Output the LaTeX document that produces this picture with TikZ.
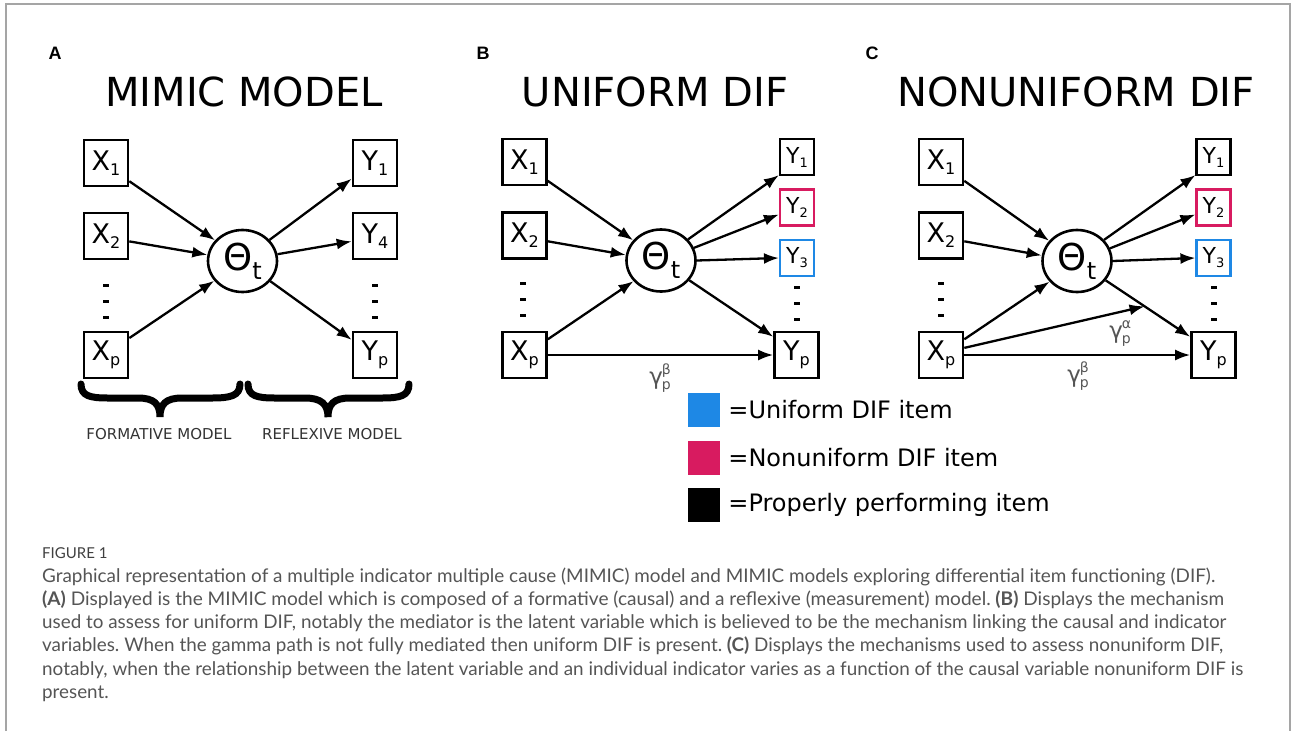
\documentclass[tikz,border=0pt]{standalone}
\usepackage{fontspec}
\setmainfont{DejaVu Sans}
\newfontfamily\capfont{Lato}
\newfontfamily\panfont{Liberation Sans}
\usetikzlibrary{arrows.meta,shapes.geometric,calc}
\definecolor{difblue}{RGB}{30,136,229}
\definecolor{difred}{RGB}{216,27,96}
\definecolor{capgray}{RGB}{85,85,85}
\definecolor{framegray}{RGB}{165,165,165}
\definecolor{labgray}{RGB}{85,85,85}
\newcommand{\fs}[1]{\fontsize{#1}{#1}\selectfont}
\newcommand{\vlab}[2]{{\fs{27}#1}\raisebox{-5pt}{\fs{16}#2}}
\newcommand{\slab}[2]{{\fs{22}#1}\raisebox{-4pt}{\fs{13}#2}}
\newcommand{\thlab}{{\fs{37}Θ}\raisebox{-9pt}{\fs{24}t}}
\newcommand{\gam}[1]{{\fs{23}γ}\hspace{-1pt}\makebox[0pt][l]{\raisebox{10pt}{\fs{14}#1}}\raisebox{-5pt}{\fs{14}p}}
\newcommand{\capline}[2]{\resizebox{#1pt}{\height}{#2}}
\newcommand{\dotcol}[2]{\fill (#1-3,#2-17.5) rectangle (#1+3,#2-14.5);
  \fill (#1-3,#2-1.5) rectangle (#1+3,#2+1.5);
  \fill (#1-3,#2+14.5) rectangle (#1+3,#2+17.5);}
\frenchspacing
\begin{document}
\begin{tikzpicture}[x=1pt,y=-1pt,
  bigbox/.style={draw, line width=2.6pt, minimum width=44pt, minimum height=46pt, inner sep=0pt},
  smallbox/.style={draw, line width=2.2pt, minimum width=34pt, minimum height=36pt, inner sep=0pt},
  latent/.style={ellipse, draw, line width=2.6pt, minimum width=69pt, minimum height=62pt, inner sep=0pt},
  arr/.style={-{Latex[length=15pt,width=11pt]}, line width=2.3pt},
  title/.style={font=\fs{40}},
  panlab/.style={font=\panfont\bfseries\fs{18}},
  gl/.style={text=labgray, inner sep=0pt},
  legsq/.style={minimum width=32pt, minimum height=34pt, inner sep=0pt},
  legtx/.style={anchor=west, font=\fs{24}, inner sep=0pt, xshift=8pt},
  captxt/.style={anchor=base west, font=\capfont\fs{18.8}, text=capgray, inner sep=0pt}]
\useasboundingbox (0,0) rectangle (1292,731);
\fill[white] (0,0) rectangle (1292,731);
\draw[framegray, line width=1.2pt] (6,731) -- (6,4) -- (1290,4) -- (1290,731);

% ---------- Panel A ----------
\node[panlab] (lA) at (55,53) {A};
\node[title] (tA) at (244,92) {MIMIC MODEL};
\node[bigbox] (ax1) at (106,163) {\vlab{X}{1}};
\node[bigbox] (ax2) at (106,236) {\vlab{X}{2}};
\node[bigbox] (axp) at (106,355) {\vlab{X}{p}};
\node[bigbox] (ay1) at (375,163) {\vlab{Y}{1}};
\node[bigbox] (ay4) at (375,236) {\vlab{Y}{4}};
\node[bigbox] (ayp) at (375,355) {\vlab{Y}{p}};
\node[latent] (ath) at (242.5,261) {\thlab};
\dotcol{106}{301}
\dotcol{375}{301}
\draw[arr] (ax1.-38) -- (ath.143);
\draw[arr] (ax2.-13) -- (ath.170);
\draw[arr] (axp.36) -- (ath.215);
\draw[arr] (ath.38) -- (ay1.214);
\draw[arr] (ath.11) -- (ay4.193);
\draw[arr] (ath.-36) -- (ayp.147);
\draw[line width=7pt, line cap=round] (81,384) .. controls (81,396) and (90,398) .. (108,398) -- (138,398)
  .. controls (154,398) and (160,404) .. (160,417) .. controls (160,404) and (166,398) .. (182,398)
  -- (212,398) .. controls (230,398) and (240,396) .. (240,384);
\draw[line width=7pt, line cap=round] (248,384) .. controls (248,396) and (257,398) .. (275,398) -- (305,398)
  .. controls (321,398) and (328,404) .. (328,417) .. controls (328,404) and (334,398) .. (350,398)
  -- (382,398) .. controls (400,398) and (409,396) .. (409,384);
\node[font=\fs{15}, text=black!80] (fm) at (159,434) {FORMATIVE MODEL};
\node[font=\fs{15}, text=black!80] (rm) at (332,434) {REFLEXIVE MODEL};

% ---------- Panel B ----------
\node[panlab] (lB) at (483,53) {B};
\node[title] (tB) at (655,92) {UNIFORM DIF};
\node[bigbox] (bx1) at (524.5,162) {\vlab{X}{1}};
\node[bigbox] (bx2) at (524.5,235.5) {\vlab{X}{2}};
\node[bigbox] (bxp) at (524.5,355) {\vlab{X}{p}};
\node[smallbox] (by1) at (797,157) {\slab{Y}{1}};
\node[smallbox, draw=difred] (by2) at (797,207.5) {\slab{Y}{2}};
\node[smallbox, draw=difblue] (by3) at (797,258) {\slab{Y}{3}};
\node[bigbox] (byp) at (796.5,355) {\vlab{Y}{p}};
\node[latent] (bth) at (661,260.5) {\thlab};
\dotcol{523}{299}
\dotcol{797}{303}
\draw[arr] (bx1.-39) -- (bth.144);
\draw[arr] (bx2.-14) -- (bth.171);
\draw[arr] (bxp.34) -- (bth.217);
\draw[arr] (bth.38) -- (by1.225);
\draw[arr] (bth.21) -- (by2.201);
\draw[arr] (bth.0) -- (by3.180);
\draw[arr] (bth.-35) -- (byp.142);
\draw[arr] (bxp.east) -- (byp.west);
\node[gl] (bgb) at (660,378) {\gam{β}};

% ---------- Panel C ----------
\node[panlab] (lC) at (872,53) {C};
\node[title] (tC) at (1076,92) {NONUNIFORM DIF};
\node[bigbox] (cx1) at (941,162) {\vlab{X}{1}};
\node[bigbox] (cx2) at (941,235.5) {\vlab{X}{2}};
\node[bigbox] (cxp) at (941,355) {\vlab{X}{p}};
\node[smallbox] (cy1) at (1213.5,157) {\slab{Y}{1}};
\node[smallbox, draw=difred] (cy2) at (1213.5,207.5) {\slab{Y}{2}};
\node[smallbox, draw=difblue] (cy3) at (1213.5,258) {\slab{Y}{3}};
\node[bigbox] (cyp) at (1213.5,355) {\vlab{Y}{p}};
\node[latent] (cth) at (1077,261) {\thlab};
\dotcol{941}{299}
\dotcol{1213.5}{303}
\draw[arr] (cx1.-39) -- (cth.144);
\draw[arr] (cx2.-14) -- (cth.171);
\draw[arr] (cxp.34) -- (cth.217);
\draw[arr] (cth.38) -- (cy1.225);
\draw[arr] (cth.21) -- (cy2.201);
\draw[arr] (cth.0) -- (cy3.180);
\draw[arr] (cth.-34) -- (cyp.142);
\coordinate (cmid) at ($(cth.-34)!0.46!(cyp.142)$);
\draw[arr] (cxp.17) -- (cmid);
\draw[arr] (cxp.east) -- (cyp.west);
\node[gl] (cga) at (1120,334) {\gam{α}};
\node[gl] (cgb) at (1078,376) {\gam{β}};

% ---------- Legend ----------
\node[legsq, fill=difblue] (lgb) at (704,410) {};
\node[legsq, fill=difred] (lgr) at (704,458) {};
\node[legsq, fill=black] (lgk) at (704,504.5) {};
\node[legtx] (ltb) at (lgb.east) {=Uniform DIF item};
\node[legtx] (ltr) at (lgr.east) {=Nonuniform DIF item};
\node[legtx] (ltk) at (lgk.east) {=Properly performing item};

% ---------- Caption ----------
\node[captxt, font=\capfont\fs{15}, text=black!75] (fig) at (42,558) {FIGURE 1};
\node[captxt] (c1) at (42,582) {\capline{1173}{Graphical representation of a multiple indicator multiple cause (MIMIC) model and MIMIC models exploring differential item functioning (DIF).}};
\node[captxt] (c2) at (42,605.3) {\capline{1182}{\textbf{(A)} Displayed is the MIMIC model which is composed of a formative (causal) and a reflexive (measurement) model. \textbf{(B)} Displays the mechanism}};
\node[captxt] (c3) at (42,628.6) {\capline{1184}{used to assess for uniform DIF, notably the mediator is the latent variable which is believed to be the mechanism linking the causal and indicator}};
\node[captxt] (c4) at (42,651.9) {\capline{1181}{variables. When the gamma path is not fully mediated then uniform DIF is present. \textbf{(C)} Displays the mechanisms used to assess nonuniform DIF,}};
\node[captxt] (c5) at (42,675.2) {\capline{1201}{notably, when the relationship between the latent variable and an individual indicator varies as a function of the causal variable nonuniform DIF is}};
\node[captxt] (c6) at (42,698.5) {present.};
\end{tikzpicture}
\end{document}
